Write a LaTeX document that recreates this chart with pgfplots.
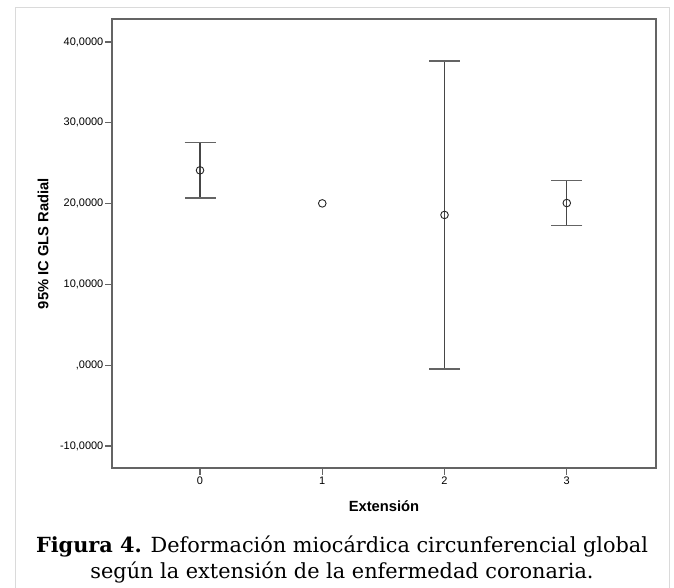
\documentclass[border=0pt]{standalone}
\usepackage{pgfplots}
\pgfplotsset{compat=1.18}
\usepackage{fontspec}
\setmainfont{Liberation Sans}
\newfontfamily\capfont{DejaVu Serif}
\definecolor{axgray}{RGB}{100,100,100}
\definecolor{bargray}{RGB}{70,70,70}
\definecolor{framegray}{RGB}{218,218,218}
\begin{document}
\begin{tikzpicture}[x=1bp,y=1bp]
\useasboundingbox (0,0) rectangle (674,588);
\draw[color=framegray, line width=1bp] (15,0) -- (15,580) -- (669,580) -- (669,0);
\begin{axis}[
  at={(112bp,120bp)}, anchor=south west,
  scale only axis, width=544bp, height=449bp,
  xmin=-0.72, xmax=3.73, ymin=-12.72, ymax=42.85,
  axis line style={color=axgray, line width=1.3bp},
  tick style={color=axgray, line width=1.1bp},
  major tick length=7bp,
  tick align=outside, tick pos=left,
  xtick={0,1,2,3}, xticklabels={0,1,2,3},
  ytick={-10,0,10,20,30,40},
  yticklabels={-10{,}0000,{,}0000,10{,}0000,20{,}0000,30{,}0000,40{,}0000},
  /pgf/number format/assume math mode=true,
  ticklabel style={font=\fontsize{11}{13}\selectfont, color=black},
  yticklabel style={inner sep=1.5bp},
  xticklabel style={inner sep=2bp},
  xlabel={Extensión},
  ylabel={95\% IC GLS Radial},
  xlabel style={at={(axis description cs:0.5,-0.0846)}, anchor=center, font=\fontsize{14.8}{17}\selectfont\bfseries},
  ylabel style={at={(axis description cs:-0.1268,0.5)}, anchor=center, font=\fontsize{14.8}{17}\selectfont\bfseries},
  clip=false,
]
\addplot[only marks, mark=o, mark size=3.8bp, mark options={line width=0.9bp, draw=black!85},
  error bars/.cd, y dir=both, y explicit,
  error bar style={line width=1.1bp, color=bargray},
  error mark options={rotate=90, mark size=15.5bp, line width=1.3bp, color=axgray}]
  table[x=x, y=y, y error plus=ep, y error minus=em] {
x y ep em
0 24.12 3.42 3.43
2 18.60 19.05 19.07
3 20.07 2.83 2.77
};
\addplot[only marks, mark=o, mark size=3.8bp, mark options={line width=0.9bp, draw=black!85}]
  table[x=x, y=y] {
x y
1 20.03
};
\end{axis}
\node[anchor=base] at (342,35) {\capfont\fontsize{20.9}{25}\selectfont\textbf{Figura 4.} Deformación miocárdica circunferencial global};
\node[anchor=base] at (342,9) {\capfont\fontsize{20.9}{25}\selectfont según la extensión de la enfermedad coronaria.};
\end{tikzpicture}
\end{document}
